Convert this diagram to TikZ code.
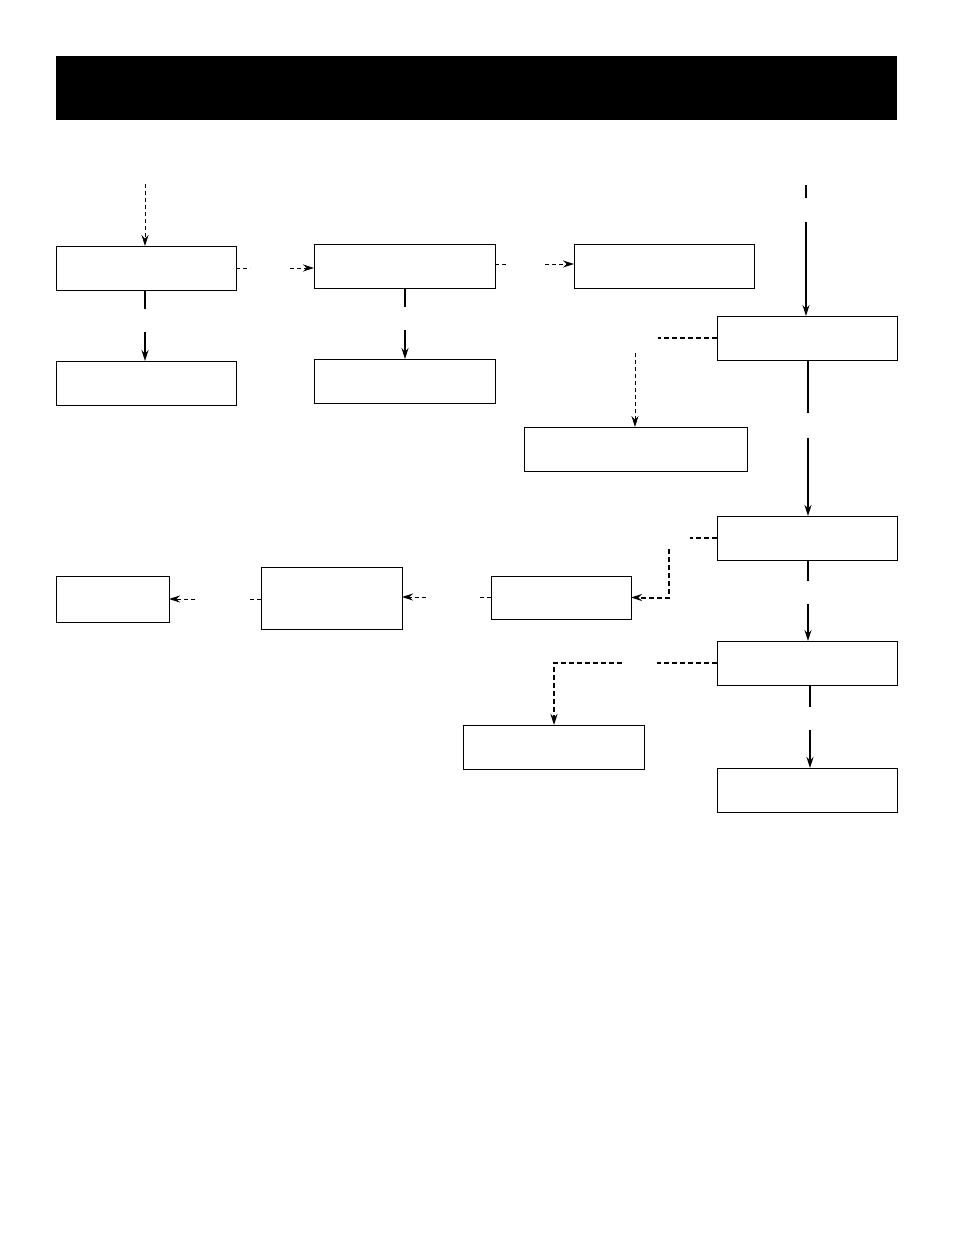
\documentclass[tikz,border=0pt]{standalone}
\usetikzlibrary{arrows.meta}
\begin{document}
\begin{tikzpicture}[x=1pt,y=-1pt,
  box/.style={draw,line width=1pt,inner sep=0pt,outer sep=0pt},
  tip/.style={-{Stealth[length=11pt,width=7pt]}},
  thin dash/.style={line width=1pt,dash pattern=on 4pt off 3pt},
  thick dash/.style={line width=2pt,dash pattern=on 5pt off 3pt},
  thin solid/.style={line width=1.1pt},
  thick solid/.style={line width=2.2pt}]
\useasboundingbox (0,0) rectangle (954,1235);
\fill[black] (56,56) rectangle (897,120);
\newcommand\mkbox[5]{\node[box,minimum width={#4-#2},minimum height={#5-#3}] (#1) at ({(#2+#4)/2},{(#3+#5)/2}) {};}
\mkbox{b1}{56}{246}{236}{290}
\mkbox{b2}{56}{361}{236}{405}
\mkbox{b3}{314}{244}{495}{288}
\mkbox{b4}{314}{359}{495}{403}
\mkbox{b5}{574}{244}{754}{288}
\mkbox{b6}{717}{316}{897}{360}
\mkbox{b7}{524}{427}{747}{471}
\mkbox{b8}{717}{516}{897}{560}
\mkbox{b9}{491}{576}{631}{619}
\mkbox{b10}{717}{641}{897}{685}
\mkbox{b11}{463}{725}{644}{769}
\mkbox{b12}{717}{768}{897}{812}
\mkbox{b13}{56}{576}{169}{622}
\mkbox{b14}{261}{567}{402}{629}
% C1
\coordinate (c1) at (145,184);
\draw[thin dash,tip] (c1) -- (c1 |- b1.north);
% C2
\coordinate (c2a) at (145,309); \coordinate (c2b) at (145,332);
\draw[thin solid] (b1.south -| c2a) -- (c2a);
\draw[thin solid,tip] (c2b) -- (c2b |- b2.north);
% C3
\coordinate (c3a) at (250,268); \coordinate (c3b) at (290,268);
\draw[thin dash] (b1.east) -- (c3a);
\draw[thin dash,tip] (c3b) -- (b3.west |- c3b);
% C4
\coordinate (c4a) at (405,307); \coordinate (c4b) at (405,330);
\draw[thin solid] (b3.south -| c4a) -- (c4a);
\draw[thin solid,tip] (c4b) -- (c4b |- b4.north);
% C5
\coordinate (c5a) at (508,264); \coordinate (c5b) at (545,264);
\draw[thin dash] (b3.east |- c5a) -- (c5a);
\draw[thin dash,tip] (c5b) -- (b5.west |- c5b);
% C6
\coordinate (c6a) at (806,185); \coordinate (c6b) at (806,198); \coordinate (c6c) at (806,222);
\draw[thin solid] (c6a) -- (c6b);
\draw[thin solid,tip] (c6c) -- (c6c |- b6.north);
% C7
\coordinate (c7a) at (658,338); \coordinate (c7b) at (635,353);
\draw[thick dash] (b6.west) -- (c7a);
\draw[thin dash,tip] (c7b) -- (c7b |- b7.north);
% C8
\coordinate (c8a) at (808,413); \coordinate (c8b) at (808,438);
\draw[thick solid] (b6.south -| c8a) -- (c8a);
\draw[thick solid,tip] (c8b) -- (c8b |- b8.north);
% C9
\coordinate (c9a) at (690,538); \coordinate (c9b) at (669,549);
\draw[thick dash] (b8.west) -- (c9a);
\draw[thick dash,tip] (c9b) |- (b9.east);
% C10
\coordinate (c10a) at (808,581); \coordinate (c10b) at (808,604);
\draw[thin solid] (b8.south -| c10a) -- (c10a);
\draw[thin solid,tip] (c10b) -- (c10b |- b10.north);
% C11
\coordinate (c11a) at (657,663); \coordinate (c11b) at (622,663); \coordinate (c11c) at (554,663);
\draw[thick dash] (b10.west) -- (c11a);
\draw[thick dash,tip] (c11b) -- (c11c) -- (c11c |- b11.north);
% C12
\coordinate (c12a) at (810,707); \coordinate (c12b) at (810,730);
\draw[thick solid] (b10.south -| c12a) -- (c12a);
\draw[thick solid,tip] (c12b) -- (c12b |- b12.north);
% C13
\coordinate (c13a) at (479,597); \coordinate (c13b) at (426,597);
\draw[thin dash] (b9.west |- c13a) -- (c13a);
\draw[thin dash,tip] (c13b) -- (b14.east |- c13b);
% C14
\coordinate (c14a) at (249,599); \coordinate (c14b) at (195,599);
\draw[thin dash] (b14.west |- c14a) -- (c14a);
\draw[thin dash,tip] (c14b) -- (b13.east |- c14b);
\end{tikzpicture}
\end{document}
